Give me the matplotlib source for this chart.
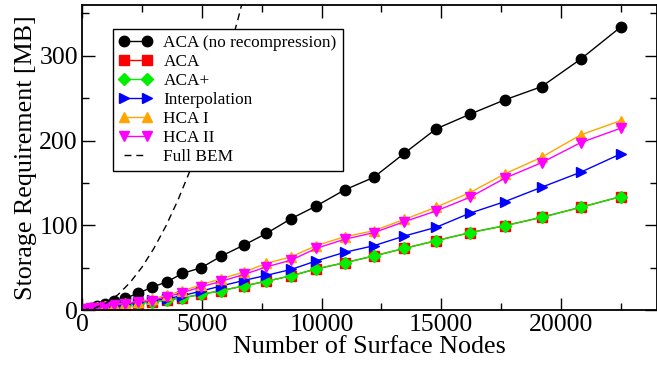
import numpy as np
import matplotlib
matplotlib.use("Agg")
import matplotlib.pyplot as plt
from matplotlib.ticker import MultipleLocator

plt.rcParams["font.family"] = ["Liberation Serif", "DejaVu Serif"]
plt.rcParams["mathtext.fontset"] = "stix"

# number of surface nodes
nodes = [20, 70, 190, 380, 640, 960, 1340, 1790, 2340, 2900, 3560, 4190, 4980,
         5820, 6760, 7700, 8740, 9780, 10960, 12180, 13460, 14780, 16190,
         17650, 19190, 20820, 22490]

aca_norecomp = [0.2, 0.6, 1.5, 3, 5, 7.5, 10.5, 13.8, 19.7, 26.8, 33.5, 43.3, 50,
                63.8, 76.7, 90.5, 108, 122.8, 141.7, 156.6, 185, 213.7, 231,
                248, 263.6, 296, 333.8]
aca = [0.1, 0.3, 0.7, 1.3, 2.2, 3.2, 4.5, 6, 7.8, 9.8, 12, 14.5, 18.5,
       23, 28.5, 34, 40.5, 48.5, 55.8, 63.8, 72.8, 81.8, 91.3,
       99.5, 109.4, 121.2, 133.8]
aca_plus = [0.1, 0.3, 0.7, 1.3, 2.2, 3.2, 4.5, 6, 7.8, 9.8, 12, 14.5, 18.5,
            23, 28.5, 34, 40.5, 48.5, 55.8, 63.8, 72.8, 81.8, 91.3,
            99.5, 109.4, 121.2, 133.8]
interp = [0.1, 0.3, 0.8, 1.5, 2.5, 3.7, 5.2, 7, 9, 11.3, 13.5, 17, 22.5,
          28.5, 35, 41, 48, 58, 68.1, 75.9, 87.4, 97.6, 114.2,
          127.9, 144.9, 162.6, 184.2]
hca1 = [0.2, 0.5, 1.2, 2, 3.2, 4.5, 6.2, 8, 10, 12.5, 18, 22.5, 30,
        37, 45, 55, 63, 76, 86.5, 93.6, 107, 121.3, 138.5,
        160.6, 180.3, 206.6, 223.5]
hca2 = [0.2, 0.5, 1.1, 1.9, 3, 4.2, 5.8, 7.5, 9.5, 11, 16, 20.5, 27.5,
        34, 42, 51, 59, 72.8, 83.5, 91.3, 104.3, 116.9, 133,
        155.5, 173.9, 197.5, 214.5]

# full BEM storage (dashed curve)
bem_nodes = [0, 500, 1000, 1500, 2000, 2500, 3000, 3500, 4000, 4500, 5000,
             5500, 6000, 6500, 7000]
bem_mb = [0, 2.0, 8.1, 18.2, 32.4, 50.6, 72.9, 99.2, 129.6, 164.0, 202.5,
          245.0, 291.6, 342.2, 396.9]

fig = plt.figure(figsize=(6.57, 3.70), dpi=100)
ax = fig.add_axes([0.125, 0.162, 0.8745, 0.8245])

ms = 7.5
lw = 1.0
ax.plot(nodes, aca_norecomp, "-o", color="black", ms=ms, lw=lw,
        label="ACA (no recompression)")
ax.plot(nodes, aca, "-s", color="red", ms=ms - 0.5, lw=lw, label="ACA")
ax.plot(nodes, aca_plus, "-D", color="#00ee00", ms=ms - 1.5, lw=lw, label="ACA+")
ax.plot(nodes, interp, "->", color="blue", ms=ms, lw=lw, label="Interpolation")
ax.plot(nodes, hca1, "-^", color="orange", ms=ms, lw=lw, label="HCA I")
ax.plot(nodes, hca2, "-v", color="magenta", ms=ms, lw=lw, label="HCA II")
ax.plot(bem_nodes, bem_mb, color="black", lw=lw, dashes=(5, 3.5), label="Full BEM")

ax.set_xlim(0, 24000)
ax.set_ylim(0, 360)
ax.xaxis.set_major_locator(MultipleLocator(5000))
ax.xaxis.set_minor_locator(MultipleLocator(2500))
ax.yaxis.set_major_locator(MultipleLocator(100))
ax.yaxis.set_minor_locator(MultipleLocator(50))
ax.tick_params(which="both", direction="in", top=True, right=True, width=1.0)
ax.tick_params(which="major", length=9, labelsize=18.5, pad=3)
ax.tick_params(which="minor", length=5)
for s in ax.spines.values():
    s.set_linewidth(1.3)

ax.set_xlabel("Number of Surface Nodes", fontsize=18.7, labelpad=0)
ax.set_ylabel("Storage Requirement [MB]", fontsize=18.7, labelpad=2)

leg = ax.legend(loc="upper left", bbox_to_anchor=(0.053, 0.922), fontsize=12.4,
                numpoints=2, handlelength=1.95, handletextpad=0.65,
                labelspacing=0.17, borderpad=0.35, borderaxespad=0,
                fancybox=False, framealpha=1, edgecolor="black")
leg.get_frame().set_linewidth(1.0)

fig.savefig("out.png", dpi=100)
